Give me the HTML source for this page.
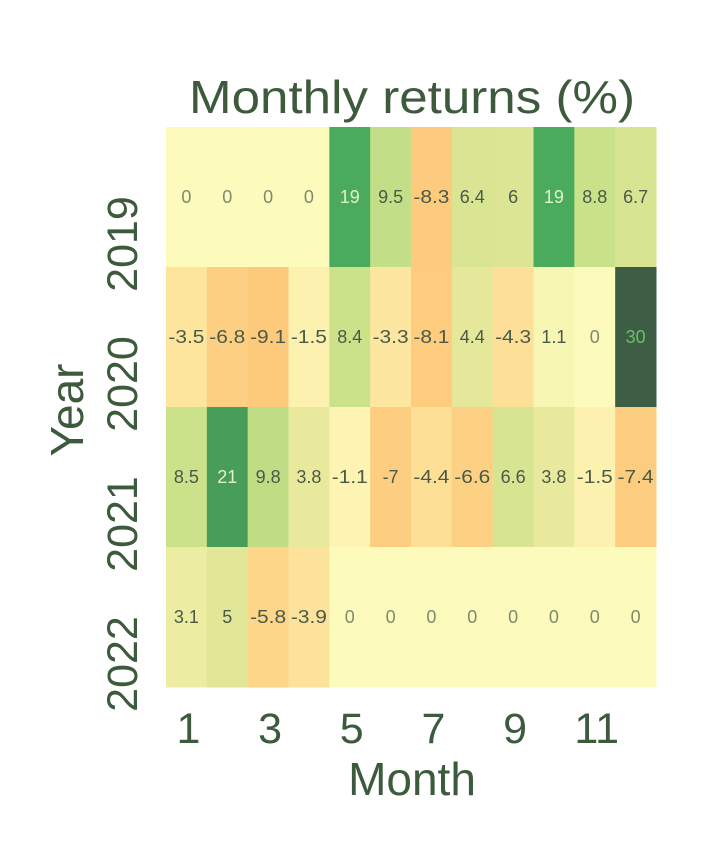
<!DOCTYPE html>
<html><head><meta charset="utf-8"><style>
html,body{margin:0;padding:0;background:#fff;}
svg{display:block;}
text{font-family:"Liberation Sans",sans-serif;}
</style></head><body>
<svg id="chart" width="710" height="858" viewBox="0 0 710 858" xmlns="http://www.w3.org/2000/svg">
<text x="412" y="113" font-size="46" fill="#3d5a3d" text-anchor="middle" textLength="446" lengthAdjust="spacingAndGlyphs">Monthly returns (%)</text>
<g id="cells"></g>
<g id="labels"></g>
<g id="yticks"></g>
<g id="xticks"></g>
<text transform="translate(83,410) rotate(-90)" font-size="46" fill="#3d5a3d" text-anchor="middle">Year</text>
<text x="412" y="795" font-size="46" fill="#3d5a3d" text-anchor="middle">Month</text>
</svg>
<script>
const years = ["2019","2020","2021","2022"];
const months = [1,2,3,4,5,6,7,8,9,10,11,12];
const xTickLabels = ["1","3","5","7","9","11"];
const r2019 = [0,0,0,0,19,9.5,-8.3,6.4,6,19,8.8,6.7];
const r2020 = [-3.5,-6.8,-9.1,-1.5,8.4,-3.3,-8.1,4.4,-4.3,1.1,0,30];
const r2021 = [8.5,21,9.8,3.8,-1.1,-7,-4.4,-6.6,6.6,3.8,-1.5,-7.4];
const r2022 = [3.1,5,-5.8,-3.9,0,0,0,0,0,0,0,0];
const returns = [r2019,r2020,r2021,r2022];

const X0=166, X1=656, Y0=127, Y1=687;
const cw=(X1-X0)/months.length, ch=(Y1-Y0)/years.length;
const xPos=i=>X0+i*cw, yPos=j=>Y0+j*ch;
const stops=[[-9,[253,202,124]],[-7,[253,206,128]],[0,[253,251,188]],[4,[232,232,156]],[9,[200,225,136]],[19,[74,171,92]],[30,[61,94,69]]];
function color(v){
  if(v<=stops[0][0]) return 'rgb('+stops[0][1]+')';
  for(let k=1;k<stops.length;k++){
    if(v<=stops[k][0]){const a=stops[k-1],b=stops[k],t=(v-a[0])/(b[0]-a[0]);
      return 'rgb('+a[1].map((c,i)=>Math.round(c+(b[1][i]-c)*t)).join(',')+')';}
  }
  return 'rgb('+stops[stops.length-1][1]+')';
}
const NS='http://www.w3.org/2000/svg';
const cells=document.getElementById('cells'), labels=document.getElementById('labels');
returns.forEach((row,j)=>{
  row.forEach((v,i)=>{
    const r=document.createElementNS(NS,'rect');
    
    
    r.setAttribute('x',xPos(i));r.setAttribute('y',yPos(j));
    r.setAttribute('width',cw+0.5);r.setAttribute('height',ch+0.5);
    r.setAttribute('fill',color(v));
    cells.appendChild(r);
    const t=document.createElementNS(NS,'text');
    
    
    t.setAttribute('x',xPos(i)+cw/2);t.setAttribute('y',yPos(j)+ch/2+6);
    t.setAttribute('font-size','18');t.setAttribute('text-anchor','middle');
    t.setAttribute('fill', v>=25?'#6dbf6a':(v>=15?'#e4f2c8':(v===0?'#7d8a6e':'#4a5a48')));
    if(String(v).length>3){t.setAttribute('textLength','36');t.setAttribute('lengthAdjust','spacingAndGlyphs');}
    t.textContent=String(v);
    labels.appendChild(t);
  });
});
const yt=document.getElementById('yticks');
years.forEach((y,j)=>{
  const t=document.createElementNS(NS,'text');
  
  
  t.setAttribute('transform','translate(137,'+(yPos(j)+ch/2+47)+') rotate(-90)');
  t.setAttribute('font-size','43');t.setAttribute('fill','#3d5a3d');t.setAttribute('text-anchor','middle');
  t.textContent=y;yt.appendChild(t);
});
const xt=document.getElementById('xticks');
xTickLabels.forEach(l=>{
  const i=months.indexOf(Number(l));
  const t=document.createElementNS(NS,'text');
  
  
  t.setAttribute('x',xPos(i)+cw/2+2);t.setAttribute('y',743);
  t.setAttribute('font-size','43');t.setAttribute('fill','#3d5a3d');t.setAttribute('text-anchor','middle');
  t.textContent=l;xt.appendChild(t);
});
</script>
</body></html>
